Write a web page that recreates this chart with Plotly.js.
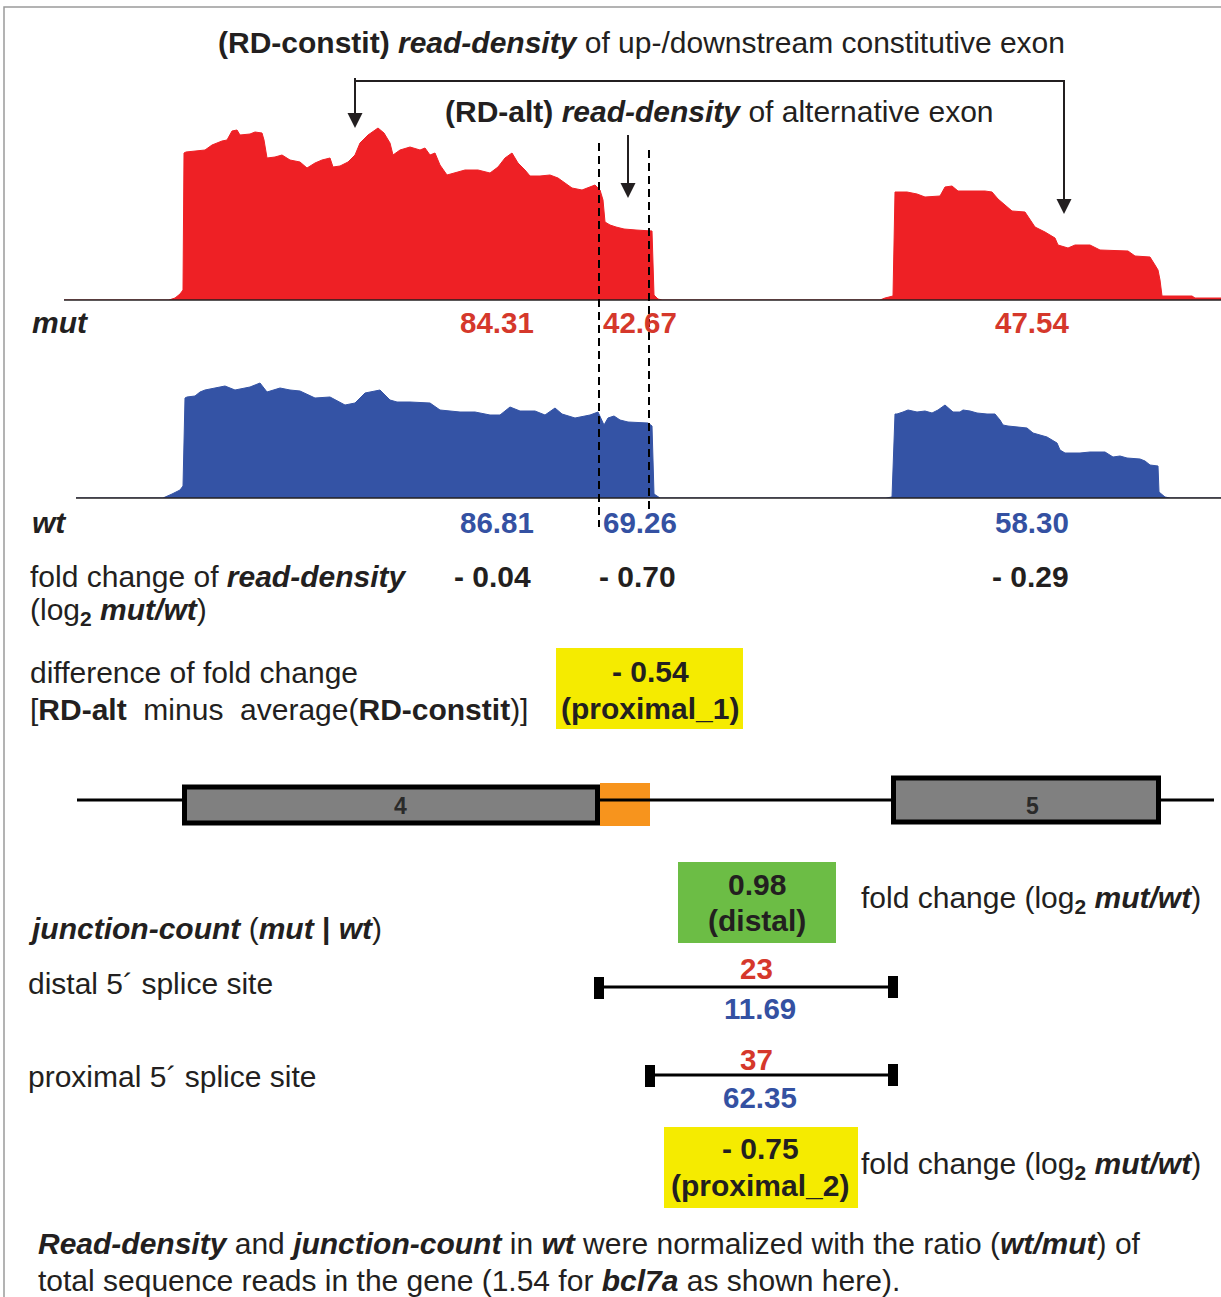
<!DOCTYPE html>
<html><head><meta charset="utf-8">
<script src="https://cdn.plot.ly/plotly-3.0.1.min.js"></script>
<style>html,body{margin:0;padding:0;background:#fff;}#chart{width:1221px;height:1297px;}</style>
</head><body><div id="chart"></div>
<script>
// ---------- DATA ----------
// coverage profile, mut (genomic position, read depth)
const mutPos = [64,169,175,180,183,184,186,205,212,222,227,232,237,240,250,255,262,264,267,275,282,290,300,307,315,322,330,333,340,348,355,360,368,378,384,390,393,400,410,420,425,430,435,440,447,455,465,478,490,498,505,512,518,525,530,540,550,558,565,572,582,590,595,600,603,605,610,616,624,636,652,654,658,662,880,885,893,895,907,917,925,940,945,952,958,985,992,998,1005,1012,1025,1030,1035,1045,1055,1058,1068,1075,1090,1100,1128,1135,1150,1155,1158,1160,1162,1192,1195,1221];
const mutDepth = [0,0,2,6,10,147,148,150,155,159,160,169,170,165,166,168,167,160,142,143,145,140,138,132,137,140,142,133,134,138,145,157,165,172,167,157,145,150,153,150,152,145,147,135,125,127,130,130,127,133,142,147,137,130,124,124,125,122,117,112,110,113,115,110,100,78,75,73,71,70,69,5,1,0,0,2,4,108,108,106,103,104,113,114,109,109,108,101,95,89,88,80,73,68,62,55,52,55,55,50,49,44,43,35,30,20,4,4,2,2];
// coverage profile, wt (normalized)
const wtPos = [76,163,172,180,183,185,187,195,200,205,215,225,235,250,260,267,280,290,300,315,330,345,355,365,380,390,397,410,430,440,460,475,490,500,510,520,535,545,555,562,575,590,598,602,604,608,614,620,628,648,652,654,660,886,892,895,897,903,908,917,925,932,938,945,948,953,960,963,970,977,987,995,1000,1003,1008,1017,1027,1033,1040,1047,1052,1057,1060,1065,1080,1090,1105,1113,1120,1127,1140,1145,1150,1158,1159,1165,1170,1221];
const wtDepth = [0,0,4,8,12,100,101,102,106,108,110,112,108,111,115,106,110,108,107,100,101,93,95,105,108,98,96,96,95,88,86,86,83,83,91,87,87,83,90,84,80,83,86,78,73,80,82,78,76,75,72,4,0,0,1,84,84,86,88,86,87,85,88,93,90,86,86,88,87,85,84,84,78,73,72,71,70,65,63,61,58,55,48,45,45,46,46,41,42,40,39,37,33,32,6,1,0,0];

// read density per region: [exon4 (constit), alt exon, exon5 (constit)]
const regions = ['constit_up','alt','constit_down'];
const rdMut = [84.31, 42.67, 47.54];
const rdWt  = [86.81, 69.26, 58.30];
const rdFold = [-0.04, -0.70, -0.29];
const diffFold = -0.54;   // proximal_1

// gene model (genomic coordinates)
const exonNames = ['4','5'];
const exonStart = [182, 891];
const exonEnd   = [600, 1161];
const altExonStart = 600, altExonEnd = 650;
const geneStart = 77, geneEnd = 1214;

// junctions
const junctionNames = ['distal','proximal'];
const junctionDonor = [599, 650];
const junctionAcceptor = [893, 893];
const junctionMut = [23, 37];
const junctionWt = [11.69, 62.35];
const junctionFold = [0.98, -0.75];
const foldLabels = ['(distal)','(proximal_2)'];
const normRatio = 1.54;

// ---------- LAYOUT HELPERS ----------
const W = 1221, H = 1297;
const FONT = 'Liberation Sans, Arial, Helvetica, sans-serif';
const INK = '#231F20', RED = '#D5382B', BLUE = '#3451A2';
const X = px => px / W;
const Y = py => 1 - py / H;
const fmt = v => (v < 0 ? '- ' + Math.abs(v).toFixed(2) : v.toFixed(2));
const fmtCount = v => Number.isInteger(v) ? String(v) : v.toFixed(2);
const FS = 30;

function txt(text, x, y, o) {
  o = o || {};
  return {xref:'paper', yref:'paper', x:X(x), y:Y(y), text:text, showarrow:false,
    xanchor:o.anchor || 'left', yanchor:'middle',
    font:{family:FONT, size:o.size || FS, color:o.color || INK}};
}
function line(x0,y0,x1,y1,o){ o=o||{};
  return {type:'line', xref:'paper', yref:'paper', x0:X(x0), y0:Y(y0), x1:X(x1), y1:Y(y1),
    line:{color:o.color||INK, width:o.width||2, dash:o.dash||'solid'}};
}
function rect(x0,y0,x1,y1,fill,o){ o=o||{};
  return {type:'rect', xref:'paper', yref:'paper', x0:X(x0), y0:Y(y0), x1:X(x1), y1:Y(y1),
    fillcolor:fill, line:{color:o.lc||fill, width:o.lw===undefined?0:o.lw}, layer:o.layer||'above'};
}
function tri(x, ytip){ // downward arrowhead
  const hw = 7.5, h = 15;
  return {type:'path', xref:'paper', yref:'paper',
    path:`M ${X(x-hw)} ${Y(ytip-h)} L ${X(x+hw)} ${Y(ytip-h)} L ${X(x)} ${Y(ytip)} Z`,
    fillcolor:INK, line:{color:INK, width:0}};
}

// ---------- TRACES ----------
const traces = [
  {x:mutPos, y:mutDepth, type:'scatter', mode:'lines', fill:'tozeroy', fillcolor:'#EE2025',
   line:{color:'#EE2025', width:1}, xaxis:'x', yaxis:'y', hoverinfo:'skip'},
  {x:wtPos, y:wtDepth, type:'scatter', mode:'lines', fill:'tozeroy', fillcolor:'#3453A5',
   line:{color:'#3453A5', width:1}, xaxis:'x', yaxis:'y2', hoverinfo:'skip'}
];

// ---------- SHAPES ----------
const shapes = [];
// frame
shapes.push({type:'rect', xref:'paper', yref:'paper', x0:X(4), y0:Y(7), x1:X(1230), y1:Y(1305),
  line:{color:'#9A9A9A', width:1.5}, fillcolor:'rgba(0,0,0,0)'});
// track baselines
shapes.push(line(64,300,1221,300,{width:1.5}));
shapes.push(line(76,498,1221,498,{width:1.5}));
// RD-constit bracket + arrows
shapes.push(line(355,78,355,115));
shapes.push(line(355,81,1064,81));
shapes.push(line(1064,80,1064,201));
shapes.push(tri(355,128));
shapes.push(tri(1064,214));
// RD-alt arrow
shapes.push(line(628,135,628,185));
shapes.push(tri(628,198));
// dashed boundaries of alternative region
shapes.push({type:'line', xref:'x', yref:'paper', x0:junctionDonor[0], x1:junctionDonor[0], y0:Y(143), y1:Y(527),
  line:{color:'#000', width:2, dash:'8px,5px'}});
shapes.push({type:'line', xref:'x', yref:'paper', x0:altExonEnd-1, x1:altExonEnd-1, y0:Y(150), y1:Y(510),
  line:{color:'#000', width:2, dash:'8px,5px'}});
// highlight boxes
shapes.push(rect(556,648,743,729,'#F5EB00'));
shapes.push(rect(678,862,836,943,'#6CBD45'));
shapes.push(rect(664,1127,858,1208,'#F5EB00'));
// gene model
shapes.push({type:'rect', xref:'x', yref:'paper', x0:altExonStart, x1:altExonEnd, y0:Y(783), y1:Y(826),
  fillcolor:'#F7941D', line:{width:0}});
shapes.push({type:'line', xref:'x', yref:'paper', x0:geneStart, x1:geneEnd, y0:Y(800), y1:Y(800),
  line:{color:'#000', width:3}});
const exonTop = [787, 778], exonBot = [823, 822];
exonNames.forEach((n,i)=>{
  shapes.push({type:'rect', xref:'x', yref:'paper', x0:exonStart[i]+2.5, x1:exonEnd[i]-2.5,
    y0:Y(exonTop[i]), y1:Y(exonBot[i]), fillcolor:'#808080', line:{color:'#000', width:5}});
});
// junctions
const jY = [987, 1075];
junctionNames.forEach((n,i)=>{
  shapes.push({type:'line', xref:'x', yref:'paper', x0:junctionDonor[i], x1:junctionAcceptor[i],
    y0:Y(jY[i]), y1:Y(jY[i]), line:{color:'#000', width:3}});
  shapes.push({type:'rect', xref:'x', yref:'paper', x0:junctionDonor[i]-5, x1:junctionDonor[i]+5,
    y0:Y(jY[i]-10), y1:Y(jY[i]+12), fillcolor:'#000', line:{width:0}});
  shapes.push({type:'rect', xref:'x', yref:'paper', x0:junctionAcceptor[i]-5, x1:junctionAcceptor[i]+5,
    y0:Y(jY[i]-11), y1:Y(jY[i]+11), fillcolor:'#000', line:{width:0}});
});

// ---------- ANNOTATIONS ----------
const NB = '\u00A0';
const ann = [];
ann.push(txt('<b>(RD-constit) </b><b><i>read-density</i></b> of up-/downstream constitutive exon', 641, 43, {anchor:'center'}));
ann.push(txt('<b>(RD-alt) </b><b><i>read-density</i></b> of alternative exon', 719, 111, {anchor:'center'}));
ann.push(txt('<b><i>mut</i></b>', 30, 322));
ann.push(txt('<b><i>wt</i></b>', 30, 522));
const valX = [497, 640, 1032];
regions.forEach((r,i)=>{
  ann.push(txt('<b>'+rdMut[i].toFixed(2)+'</b>', valX[i], 322, {anchor:'center', color:RED, size:29.5}));
  ann.push(txt('<b>'+rdWt[i].toFixed(2)+'</b>', valX[i], 522, {anchor:'center', color:BLUE, size:29.5}));
});
const fcX = [492, 637, 1030];
regions.forEach((r,i)=>{
  ann.push(txt('<b>'+fmt(rdFold[i])+'</b>', fcX[i], 576, {anchor:'center'}));
});
ann.push(txt('fold change of <b><i>read-density</i></b>', 28, 576));
ann.push(txt('(log<sub><b>2</b></sub> <b><i>mut/wt</i></b>)', 28, 612));
ann.push(txt('difference of fold change', 28, 672));
ann.push(txt('[<b>RD-alt</b>'+NB+' minus'+NB+' average(<b>RD-constit</b>)]', 28, 709));
ann.push(txt('<b>'+fmt(diffFold)+'</b>', 650, 671, {anchor:'center'}));
ann.push(txt('<b>(proximal_1)</b>', 650, 708, {anchor:'center'}));
const exLabX = [400, 1032];
exonNames.forEach((n,i)=> ann.push(txt('<b>'+n+'</b>', exLabX[i], 806, {anchor:'center', size:23, color:'#2a2a2a'})));
// junction fold boxes
ann.push(txt('<b>'+fmt(junctionFold[0])+'</b>', 757, 884, {anchor:'center'}));
ann.push(txt('<b>'+foldLabels[0]+'</b>', 757, 920, {anchor:'center'}));
ann.push(txt('<b>'+fmt(junctionFold[1])+'</b>', 760, 1148, {anchor:'center'}));
ann.push(txt('<b>'+foldLabels[1]+'</b>', 760, 1185, {anchor:'center'}));
ann.push(txt('fold change (log<sub><b>2</b></sub> <b><i>mut/wt</i></b>)', 859, 900));
ann.push(txt('fold change (log<sub><b>2</b></sub> <b><i>mut/wt</i></b>)', 859, 1165));
ann.push(txt('<b><i>junction-count</i></b> (<b><i>mut</i></b> <b>|</b> <b><i>wt</i></b>)', 26, 928));
ann.push(txt('distal 5´ splice site', 26, 983));
ann.push(txt('proximal 5´ splice site', 26, 1076));
const mutCountY = [968, 1059], wtCountY = [1008, 1097];
junctionNames.forEach((n,i)=>{
  ann.push(txt('<b>'+fmtCount(junctionMut[i])+'</b>', 756, mutCountY[i], {anchor:'center', color:RED, size:29.5}));
  ann.push(txt('<b>'+fmtCount(junctionWt[i])+'</b>', 760, wtCountY[i], {anchor:'center', color:BLUE, size:29.5}));
});
ann.push(txt('<b><i>Read-density</i></b> and <b><i>junction-count</i></b> in <b><i>wt</i></b> were normalized with the ratio (<b><i>wt/mut</i></b>) of', 36, 1243));
ann.push(txt('total sequence reads in the gene ('+normRatio.toFixed(2)+' for <b><i>bcl7a</i></b> as shown here).', 36, 1280));

const layout = {
  width:W, height:H, margin:{l:0,r:0,t:0,b:0,pad:0},
  paper_bgcolor:'#fff', plot_bgcolor:'rgba(0,0,0,0)', showlegend:false,
  xaxis:{range:[0,W], domain:[0,1], visible:false, fixedrange:true},
  yaxis:{range:[0,300], domain:[Y(300),1], visible:false, fixedrange:true, anchor:'x'},
  yaxis2:{range:[0,180], domain:[Y(498),Y(318)], visible:false, fixedrange:true, anchor:'x'},
  shapes:shapes, annotations:ann, font:{family:FONT}
};
Plotly.newPlot('chart', traces, layout, {staticPlot:true, displayModeBar:false});
</script></body></html>
